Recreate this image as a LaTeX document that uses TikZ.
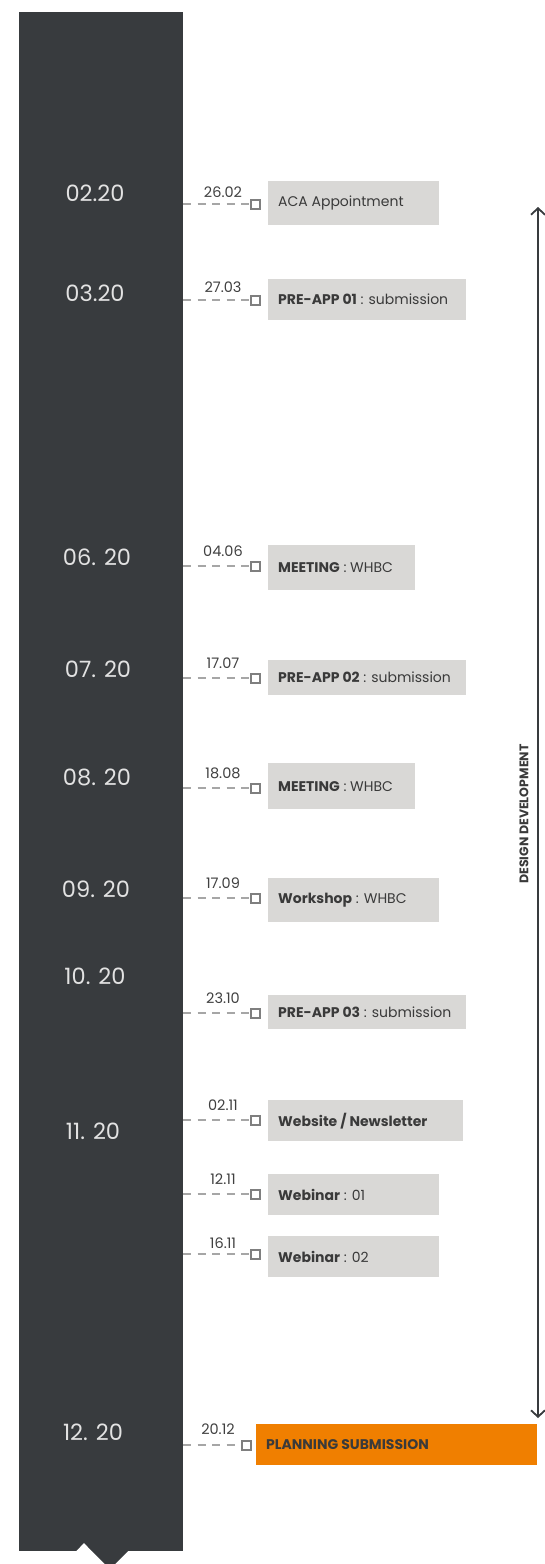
\documentclass[tikz,border=0pt]{standalone}
\usepackage{fontspec}
\setmainfont{Poppins}
\usetikzlibrary{arrows.meta}
\definecolor{barc}{HTML}{383B3E}
\definecolor{monthc}{HTML}{E2E2E2}
\definecolor{datec}{HTML}{404040}
\definecolor{sqc}{HTML}{7F7F7F}
\definecolor{connc}{HTML}{A6A6A6}
\definecolor{boxc}{HTML}{D9D8D6}
\definecolor{txtc}{HTML}{3A3A3A}
\definecolor{orangec}{HTML}{F07F00}
\newcommand\monthfont{\fontsize{22.5}{25}\selectfont}
\newcommand\datefont{\fontsize{14.5}{16}\selectfont}
\newcommand\itemfont{\fontsize{14}{17}\selectfont}
\tikzset{
  month/.style={text=monthc, font=\monthfont, anchor=center, inner sep=0pt},
  datel/.style={text=datec, font=\datefont, anchor=base, inner sep=0pt},
  sqbox/.style={draw=sqc, line width=2pt, minimum size=9pt, inner sep=0pt, fill=white, anchor=center},
  conn/.style={draw=connc, line width=2pt, dash pattern=on 8pt off 6.5pt},
  itembox/.style={fill=boxc, anchor=north west, inner sep=0pt},
  itemtext/.style={text=txtc, font=\itemfont, anchor=west, inner sep=0pt},
}
% #1 name, #2 x, #3 y, #4 width, #5 height, #6 text, #7 fill
\newcommand\evbox[7]{%
  \node[itembox, fill=#7, minimum width=#4pt, minimum height=#5pt] (#1) at (#2,#3) {};
  \node[itemtext] (#1t) at ([xshift=10pt]#1.west) {#6};
}
\begin{document}
\begin{tikzpicture}[x=1pt,y=-1pt]
\useasboundingbox (0,0) rectangle (545,1564);
% bar
\fill[barc] (19,12) rectangle (183,1551);
\fill[barc] (92,1551) -- (128,1551) -- (110,1569) -- cycle;
\fill[white] (76,1551.5) -- (84,1543) -- (92,1551.5) -- cycle;

% months
\node[month] (m1) at (95,193) {02.20};
\node[month] (m2) at (95,293) {03.20};
\node[month] (m3) at (97,557) {06. 20};
\node[month] (m4) at (98,669) {07. 20};
\node[month] (m5) at (97,777) {08. 20};
\node[month] (m6) at (96,889) {09. 20};
\node[month] (m7) at (95,976) {10. 20};
\node[month] (m8) at (93,1131) {11. 20};
\node[month] (m9) at (93,1432) {12. 20};

% events: boxes
\evbox{b1}{268}{181}{171}{44}{ACA Appointment}{boxc}
\evbox{b2}{268}{279}{198}{41}{\textbf{PRE-APP 01} : submission}{boxc}
\evbox{b3}{268}{545}{147}{45}{\textbf{MEETING} : WHBC}{boxc}
\evbox{b4}{268}{660}{198}{35}{\textbf{PRE-APP 02} : submission}{boxc}
\evbox{b5}{268}{763}{147}{46}{\textbf{MEETING} : WHBC}{boxc}
\evbox{b6}{268}{878}{171}{44}{\textbf{Workshop} : WHBC}{boxc}
\evbox{b7}{268}{995}{198}{34}{\textbf{PRE-APP 03} : submission}{boxc}
\evbox{b8}{268}{1100}{195}{41}{\textbf{Website / Newsletter}}{boxc}
\evbox{b9}{268}{1174}{171}{41}{\textbf{Webinar} : 01}{boxc}
\evbox{b10}{268}{1236}{171}{41}{\textbf{Webinar} : 02}{boxc}
\evbox{b11}{256}{1424}{281}{41}{\textbf{PLANNING SUBMISSION}}{orangec}

% squares
\node[sqbox] (s1) at (255,204) {};
\node[sqbox] (s2) at (255,300) {};
\node[sqbox] (s3) at (255,566) {};
\node[sqbox] (s4) at (255,678) {};
\node[sqbox] (s5) at (255,788) {};
\node[sqbox] (s6) at (255,898) {};
\node[sqbox] (s7) at (255,1013) {};
\node[sqbox] (s8) at (255,1120) {};
\node[sqbox] (s9) at (255,1194) {};
\node[sqbox] (s10) at (255,1254) {};
\node[sqbox] (s11) at (246,1445) {};

% connectors start on the bar edge
\foreach \i/\y in {1/204,2/300,3/566,4/678,5/788,6/898,7/1013,8/1120,9/1194,10/1254,11/1445}{
  \coordinate (c\i) at (183,\y);
  \draw[conn] (c\i) -- (s\i.west);
}

% dates
\node[datel] (d1) at (223,197) {26.02};
\node[datel] (d2) at (223,292) {27.03};
\node[datel] (d3) at (223,556) {04.06};
\node[datel] (d4) at (223,668) {17.07};
\node[datel] (d5) at (223,778) {18.08};
\node[datel] (d6) at (223,888) {17.09};
\node[datel] (d7) at (223,1003) {23.10};
\node[datel] (d8) at (223,1110) {02.11};
\node[datel] (d9) at (223,1184) {12.11};
\node[datel] (d10) at (223,1248) {16.11};
\node[datel] (d11) at (218,1434) {20.12};

% design development arrow
\coordinate (atop) at (538,207);
\coordinate (abot) at (538,1418);
\draw[barc, line width=1.8pt, {Straight Barb[length=6.5pt,width=14pt,line width=1.8pt]}-{Straight Barb[length=6.5pt,width=14pt,line width=1.8pt]}] (atop) -- (abot);
\node[rotate=90, text=txtc, font=\fontsize{12.5}{14}\selectfont\bfseries, inner sep=0pt] (dd) at (524,814) {DESIGN DEVELOPMENT};
\end{tikzpicture}
\end{document}
